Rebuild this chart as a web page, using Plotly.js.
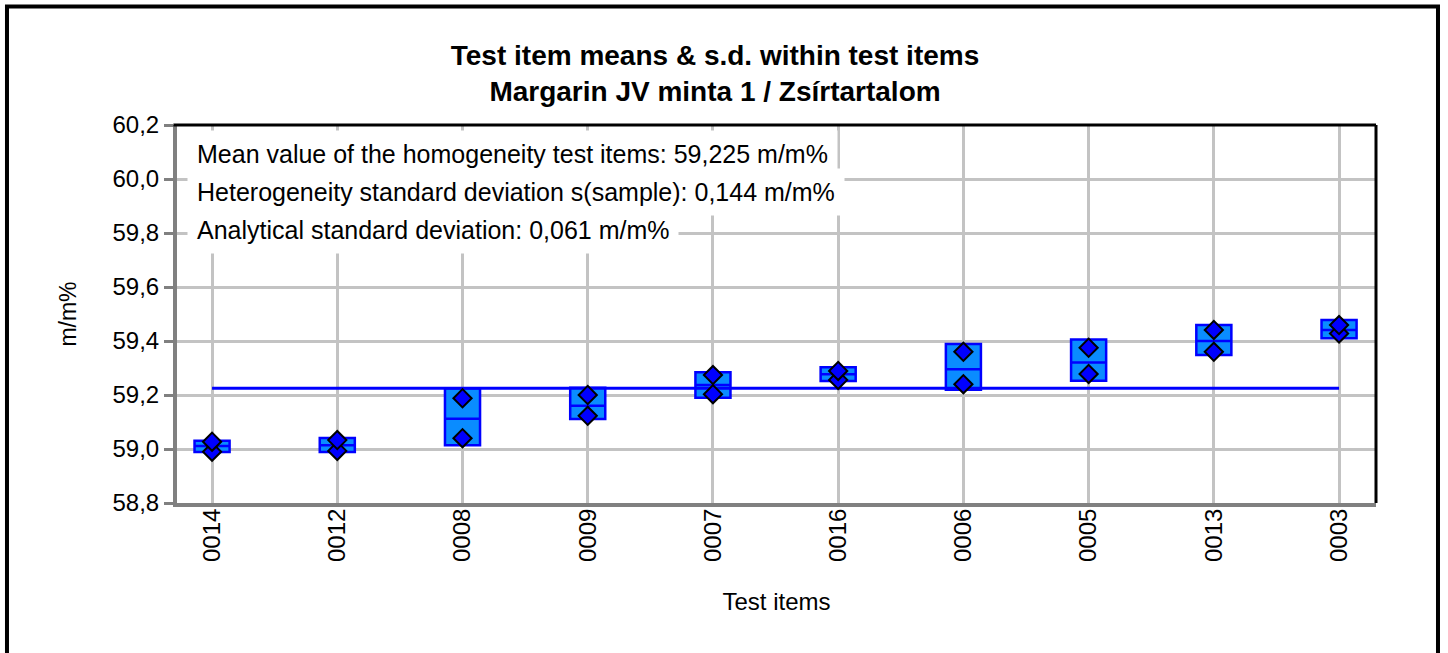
<!DOCTYPE html>
<html>
<head>
<meta charset="utf-8">
<script src="https://cdn.plot.ly/plotly-3.0.1.min.js"></script>
<style>
  html, body { margin: 0; padding: 0; background: #fff; }
  #chart { width: 1448px; height: 653px; }
</style>
</head>
<body>
<div id="chart"></div>
<script>
// ---- data ----
const categories = ['0014', '0012', '0008', '0009', '0007', '0016', '0006', '0005', '0013', '0003'];
const replicate1 = [59.027, 59.033, 59.188, 59.200, 59.274, 59.289, 59.360, 59.375, 59.441, 59.459];
const replicate2 = [58.990, 58.993, 59.040, 59.123, 59.203, 59.256, 59.240, 59.278, 59.360, 59.428];
const itemMeans  = [59.011, 59.014, 59.112, 59.160, 59.237, 59.277, 59.295, 59.320, 59.400, 59.441];
const sdLow      = [58.989, 58.989, 59.014, 59.111, 59.190, 59.252, 59.219, 59.253, 59.348, 59.410];
const sdHigh     = [59.031, 59.041, 59.225, 59.227, 59.284, 59.303, 59.389, 59.406, 59.459, 59.478];
const overallMean = 59.225;
const infoLines = [
  'Mean value of the homogeneity test items: 59,225 m/m%',
  'Heterogeneity standard deviation s(sample): 0,144 m/m%',
  'Analytical standard deviation: 0,061 m/m%'
];
const yTickVals = [58.8, 59.0, 59.2, 59.4, 59.6, 59.8, 60.0, 60.2];

const FONT = '"Liberation Sans", Arial, sans-serif';
const BLUE = '#0000ff';

const traces = [
  {
    type: 'scatter', mode: 'lines',
    x: [categories[0], categories[categories.length - 1]],
    y: [overallMean, overallMean],
    line: { color: BLUE, width: 3 },
    hoverinfo: 'skip', showlegend: false
  },
  {
    type: 'box',
    x: categories,
    q1: sdLow, median: itemMeans, q3: sdHigh,
    lowerfence: sdLow, upperfence: sdHigh,
    width: 0.28, whiskerwidth: 0,
    fillcolor: '#0a8cff',
    line: { color: BLUE, width: 2.5 },
    boxpoints: false,
    hoverinfo: 'skip', showlegend: false
  },
  {
    type: 'scatter', mode: 'markers',
    x: categories, y: replicate2,
    marker: { symbol: 'diamond', size: 14, color: BLUE, line: { color: '#000', width: 2 } },
    hoverinfo: 'skip', showlegend: false
  },
  {
    type: 'scatter', mode: 'markers',
    x: categories, y: replicate1,
    marker: { symbol: 'diamond', size: 14, color: BLUE, line: { color: '#000', width: 2 } },
    hoverinfo: 'skip', showlegend: false
  }
];

const annY = [0.9233, 0.8228, 0.7222];
const annotations = infoLines.map((t, i) => ({
  text: t, xref: 'paper', yref: 'paper', x: 0.0083, y: annY[i],
  xanchor: 'left', yanchor: 'middle', showarrow: false,
  bgcolor: '#ffffff', borderpad: 9, borderwidth: 1, bordercolor: 'rgba(0,0,0,0)',
  font: { family: FONT, size: 25, color: '#000' }
}));

const layout = {
  width: 1448, height: 653,
  margin: { l: 177, r: 72, t: 125, b: 150, pad: 0 },
  paper_bgcolor: '#fff', plot_bgcolor: '#fff',
  separators: ',.',
  showlegend: false,
  font: { family: FONT, color: '#000' },
  title: {
    text: '<b>Test item means & s.d. within test items</b><br><b>Margarin JV minta 1 / Zsírtartalom</b>',
    xref: 'container', yref: 'container', x: 0.4938, y: 0.901,
    xanchor: 'center', yanchor: 'middle',
    font: { family: FONT, size: 28, color: '#000' }
  },
  xaxis: {
    type: 'category',
    categoryorder: 'array', categoryarray: categories,
    range: [-0.28, 9.295],
    showgrid: true, gridcolor: '#c3c3c3', gridwidth: 3,
    showline: true, linecolor: '#808080', linewidth: 4,
    ticks: '', tickangle: -90, ticklabelstandoff: -8,
    tickfont: { family: FONT, size: 24, color: '#000' },
    title: { text: 'Test items', font: { family: FONT, size: 24, color: '#000' }, standoff: 33 },
    zeroline: false, fixedrange: true
  },
  yaxis: {
    range: [58.8, 60.2],
    tickvals: yTickVals, tickformat: '.1f',
    showgrid: true, gridcolor: '#c3c3c3', gridwidth: 3,
    showline: true, linecolor: '#808080', linewidth: 4,
    ticks: 'outside', ticklen: 9, tickwidth: 3, tickcolor: '#808080',
    tickfont: { family: FONT, size: 24, color: '#000' },
    title: { text: 'm/m%', font: { family: FONT, size: 23, color: '#000' }, standoff: 30 },
    zeroline: false, fixedrange: true
  },
  shapes: [
    { type: 'line', xref: 'paper', yref: 'paper', x0: -0.003, x1: 1.0, y0: 1, y1: 1, line: { color: '#000', width: 3 }, layer: 'above' },
    { type: 'line', xref: 'paper', yref: 'paper', x0: 1.0, x1: 1.0, y0: 0, y1: 1, line: { color: '#000', width: 3 }, layer: 'above' },
    { type: 'rect', xref: 'paper', yref: 'paper', x0: -0.1418, x1: 1.0517, y0: -0.41, y1: 1.3135, line: { color: '#000', width: 4 }, fillcolor: 'rgba(0,0,0,0)', layer: 'above' }
  ],
  annotations: annotations
};

Plotly.newPlot('chart', traces, layout, { displayModeBar: false, staticPlot: true });
</script>
</body>
</html>
